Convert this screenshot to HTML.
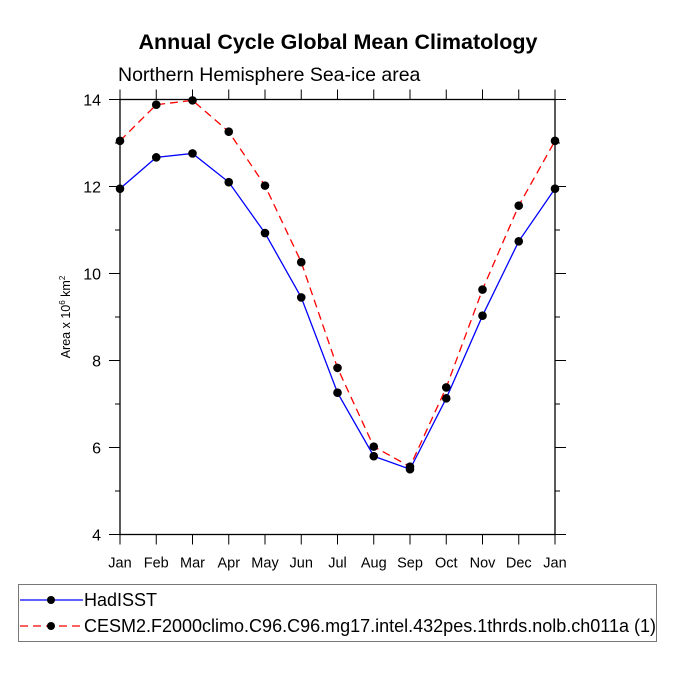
<!DOCTYPE html>
<html><head><meta charset="utf-8"><style>
body{margin:0;background:#fff;}
svg{display:block;font-family:"Liberation Sans",Arial,sans-serif;}
</style></head><body>
<svg id="chart" width="675" height="675" viewBox="0 0 675 675">
<text x="338" y="49" text-anchor="middle" font-size="21.5" font-weight="bold">Annual Cycle Global Mean Climatology</text>
<text x="118" y="81" font-size="19.5">Northern Hemisphere Sea-ice area</text>
<text transform="translate(70,317) rotate(-90)" text-anchor="middle" font-size="12.5">Area x 10<tspan font-size="8" dy="-5">6</tspan><tspan dy="5"> km</tspan><tspan font-size="8" dy="-5">2</tspan></text>
<g id="axes"></g>
<g id="series"></g>
<g>
<rect x="18.5" y="584.5" width="638" height="57" fill="none" stroke="#777" stroke-width="1"/>
<g>
<line x1="20" y1="600" x2="83" y2="600" stroke="#0000ff" stroke-width="1.2"/>
<circle cx="51" cy="600" r="4" fill="#000"/>
<text x="84" y="606" font-size="18">HadISST</text>
</g>
<g>
<line x1="20" y1="626" x2="83" y2="626" stroke="#ff0000" stroke-width="1.2" stroke-dasharray="8,5"/>
<circle cx="51" cy="626" r="4" fill="#000"/>
<text x="84" y="632" font-size="18">CESM2.F2000climo.C96.C96.mg17.intel.432pes.1thrds.nolb.ch011a (1)</text>
</g>
</g>
</svg>
<script>
const months = ["Jan","Feb","Mar","Apr","May","Jun","Jul","Aug","Sep","Oct","Nov","Dec","Jan"];
const hadisst = [11.95,12.67,12.76,12.10,10.93,9.45,7.26,5.80,5.50,7.13,9.03,10.74,11.95];
const cesm = [13.05,13.88,13.98,13.26,12.02,10.26,7.83,6.02,5.56,7.38,9.63,11.56,13.05];
const yTicks = [4,6,8,10,12,14];
const yMin = 4, yMax = 14;
const X0 = 120, X1 = 555, Y0 = 534.5, Y1 = 99.5;
const NS = "http://www.w3.org/2000/svg";
function xs(i){return X0 + i*(X1-X0)/(months.length-1);}
function ys(v){return Y0 - (v-yMin)*(Y0-Y1)/(yMax-yMin);}
function mk(tag, attrs, parent){const e=document.createElementNS(NS,tag);for(const k in attrs)e.setAttribute(k,attrs[k]);parent.appendChild(e);return e;}
const axes=document.getElementById('axes');
const frame=mk('rect',{x:X0,y:Y1,width:X1-X0,height:Y0-Y1,fill:'none',stroke:'#000','stroke-width':1.3},axes);


months.forEach((m,i)=>{
  const x=xs(i);
  const t=mk('line',{x1:x,y1:Y0,x2:x,y2:Y0+10,stroke:'#000','stroke-width':1},axes);
  
  
  const t2=mk('line',{x1:x,y1:Y1,x2:x,y2:Y1-10,stroke:'#000','stroke-width':1},axes);
  
  
  const l=mk('text',{x:x,y:Y0+33,'text-anchor':'middle','font-size':14.5},axes);
  l.textContent=m;
  
  
});
for(let v=yMin; v<=yMax; v+=1){
  const y=ys(v); const major=yTicks.includes(v); const len=major?11:5;
  [[X0,-1],[X1,1]].forEach(([xx,d])=>{
    const t=mk('line',{x1:xx,y1:y,x2:xx+d*len,y2:y,stroke:'#000','stroke-width':1},axes);
    
    
  });
  if(major){
    const l=mk('text',{x:X0-19,y:y+6,'text-anchor':'end','font-size':16},axes);
    l.textContent=v;
    
    
  }
}
const ser=document.getElementById('series');
function draw(vals,color,dash,name){
  const p=mk('polyline',{points:vals.map((v,i)=>xs(i)+','+ys(v)).join(' '),fill:'none',stroke:color,'stroke-width':1.3,'stroke-dasharray':dash},ser);
  
  
  vals.forEach((v,i)=>{
    const c=mk('circle',{cx:xs(i),cy:ys(v),r:4.3,fill:'#000'},ser);
    
    
  });
}
draw(hadisst,'#0000ff','none','hadisst');
draw(cesm,'#ff0000','8,5','cesm2');
</script>
</body></html>
